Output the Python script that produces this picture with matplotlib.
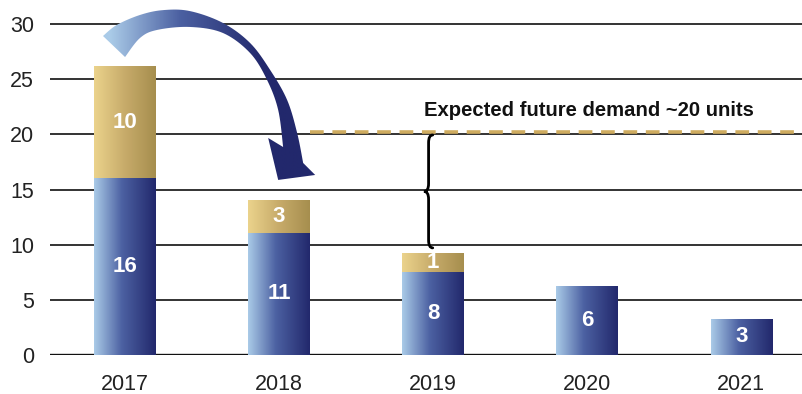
import numpy as np
import matplotlib
matplotlib.use("Agg")
import matplotlib.pyplot as plt
from matplotlib.colors import LinearSegmentedColormap
from matplotlib.patches import Polygon, PathPatch
from matplotlib.path import Path

############################# Data ######################################
years = ["2017", "2018", "2019", "2020", "2021"]
current = [16.05, 11.05, 7.55, 6.25, 3.25]
current_labels = ["16", "11", "8", "6", "3"]
extra = [10.15, 3.0, 1.7, 0, 0]
extra_labels = ["10", "3", "1", "", ""]
demand = 20.2
demand_text = "Expected future demand ~20 units"
yticks = [0, 5, 10, 15, 20, 25, 30]

############################# Style ######################################
plt.rcParams["font.family"] = ["Liberation Sans", "DejaVu Sans"]
blue_cmap = LinearSegmentedColormap.from_list(
    "blue", [(0, "#aacbe8"), (0.45, "#4c61a2"), (1, "#22286c")])
gold_cmap = LinearSegmentedColormap.from_list(
    "gold", ["#ebd38c", "#c7ab6a", "#a68e4e"])
grad = np.linspace(0, 1, 256).reshape(1, -1)

fig = plt.figure(figsize=(8.03, 3.94), dpi=100)
ax = fig.add_axes([50 / 803, 39.3 / 394, 753 / 803, 350.2 / 394])

x = np.arange(len(years))
width = 0.40
XLIM = (-0.487, 4.40)
YLIM = (0, 31.8)


def gradient_bars(bars, cmap):
    for rect in bars:
        if rect.get_height() <= 0:
            continue
        x0, y0 = rect.get_x(), rect.get_y()
        im = ax.imshow(grad, cmap=cmap, aspect="auto", zorder=2,
                       extent=(x0, x0 + rect.get_width(), y0, y0 + rect.get_height()))
        im.set_clip_path(rect)


b1 = ax.bar(x, current, width, facecolor="none", edgecolor="none", zorder=2)
b2 = ax.bar(x, extra, width, bottom=current, facecolor="none", edgecolor="none", zorder=2)
gradient_bars(b1, blue_cmap)
gradient_bars(b2, gold_cmap)

for i in range(len(years)):
    ax.text(x[i], current[i] / 2, current_labels[i], color="white", fontsize=16,
            fontweight="bold", ha="center", va="center", zorder=5)
    if extra[i] > 0:
        ax.text(x[i], current[i] + extra[i] / 2, extra_labels[i], color="white",
                fontsize=16, fontweight="bold", ha="center", va="center", zorder=5)

# grid lines
for t in yticks:
    ax.axhline(t, color="#111111", lw=1.7 if t == 0 else 1.2, zorder=1)

# demand line + text
ax.plot([1.20, XLIM[1]], [demand, demand], color="#cfac60", lw=2.6,
        linestyle=(0, (3.8, 2.4)), zorder=3, solid_capstyle="butt")
ax.text(x[2] - 0.06, demand + 1.5, demand_text, fontsize=14.6,
        fontweight="bold", ha="left", va="baseline", color="#111111")

# curly brace between demand and 2019 total
xv, xr, xl = x[2] - 0.03, x[2] - 0.003, x[2] - 0.06
yt, yb = demand - 0.25, current[2] + extra[2] + 0.45
ym = (yt + yb) / 2
h = 0.7
verts = [(xr, yt), (xv, yt), (xv, yt - h), (xv, ym + h), (xv, ym), (xl, ym),
         (xv, ym), (xv, ym - h), (xv, yb + h), (xv, yb), (xr, yb)]
codes = [Path.MOVETO, Path.CURVE3, Path.CURVE3, Path.LINETO, Path.CURVE3, Path.CURVE3,
         Path.CURVE3, Path.CURVE3, Path.LINETO, Path.CURVE3, Path.CURVE3]
ax.add_patch(PathPatch(Path(verts, codes), facecolor="none", edgecolor="black",
                       lw=2.0, zorder=4, capstyle="round"))


# curved arrow from 2017 to 2018
def smooth(pts, n=10):
    pts = np.asarray(pts, float)
    p = np.vstack([pts[0], pts, pts[-1]])
    out = []
    for i in range(1, len(p) - 2):
        p0, p1, p2, p3 = p[i - 1], p[i], p[i + 1], p[i + 2]
        for t in np.linspace(0, 1, n, endpoint=False):
            out.append(0.5 * ((2 * p1) + (-p0 + p2) * t
                              + (2 * p0 - 5 * p1 + 4 * p2 - p3) * t ** 2
                              + (-p0 + 3 * p1 - 3 * p2 + p3) * t ** 3))
    out.append(pts[-1])
    return np.array(out)


outer = [(-0.143, 28.94), (-0.054, 29.94), (0.097, 30.85), (0.247, 31.29),
         (0.422, 31.2), (0.636, 30.12), (0.812, 28.3), (0.942, 25.85),
         (1.052, 23.13), (1.117, 20.13), (1.156, 17.41)]
head = [(1.234, 16.32), (0.994, 15.87), (0.929, 19.68)]
inner = [(1.026, 18.86), (0.994, 22.22), (0.922, 24.94), (0.812, 27.39),
         (0.636, 29.21), (0.422, 29.76), (0.208, 29.49), (0.097, 28.76), (0.0, 27.03)]
arrow_pts = np.vstack([smooth(outer), head, smooth(inner)])
arrow = Polygon(arrow_pts, closed=True, facecolor="none", edgecolor="none", zorder=4)
ax.add_patch(arrow)
arrow_grad = np.clip(np.linspace(-0.05, 1.35, 256), 0, 1).reshape(1, -1)
im = ax.imshow(arrow_grad, cmap=blue_cmap, aspect="auto", zorder=4,
               extent=(-0.15, 1.25, 15.5, 31.5))
im.set_clip_path(arrow)

############################# Axes ######################################
ax.set_xlim(XLIM)
ax.set_ylim(YLIM)
ax.set_xticks(x)
ax.set_xticklabels(years)
ax.set_yticks(yticks)
ax.tick_params(axis="both", length=0, labelsize=15.5, colors="#222222")
ax.tick_params(axis="y", pad=11.5)
ax.tick_params(axis="x", pad=14)
for s in ax.spines.values():
    s.set_visible(False)

plt.savefig("out.png", dpi=100)
